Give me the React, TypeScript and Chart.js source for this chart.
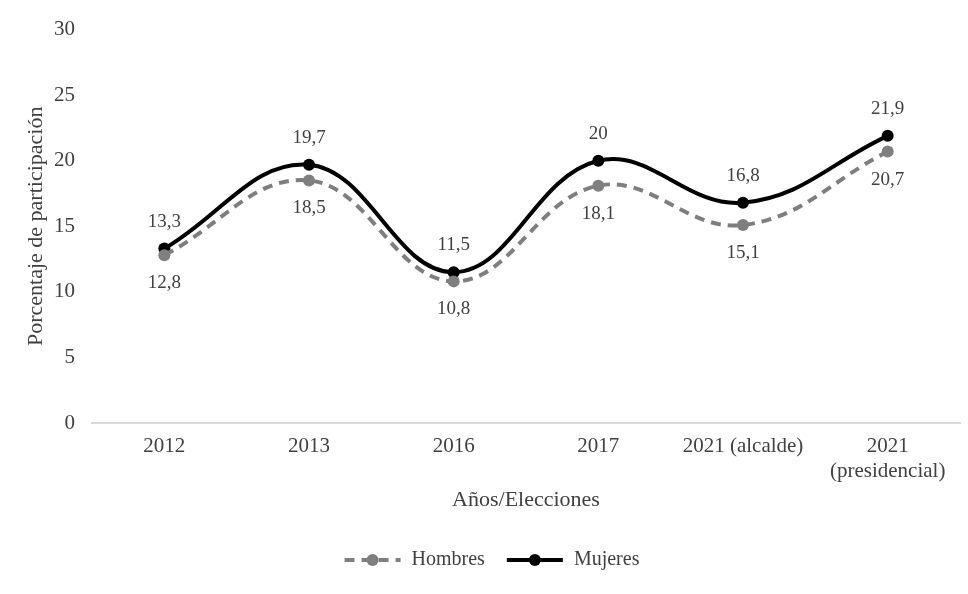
import React, { useEffect, useRef } from "react";
import { Chart, registerables } from "chart.js";

Chart.register(...registerables);

const categories: (string | string[])[] = ["2012", "2013", "2016", "2017", "2021 (alcalde)", ["2021", "(presidencial)"]];
const hombres = [12.8, 18.5, 10.8, 18.1, 15.1, 20.7];
const mujeres = [13.3, 19.7, 11.5, 20, 16.8, 21.9];
const yTicks = [0, 5, 10, 15, 20, 25, 30];

const FONT = "'Liberation Serif', 'Times New Roman', serif";
const TEXT = "#404040";
const GRAY = "#7f7f7f";
const BLACK = "#000000";

const fmt = (v: number) => String(v).replace(".", ",");

const labelPlugin = {
  id: "valueLabels",
  afterDatasetsDraw(chart: any) {
    const ctx = chart.ctx;
    ctx.save();
    ctx.font = `19px ${FONT}`;
    ctx.fillStyle = TEXT;
    ctx.textAlign = "center";
    ctx.textBaseline = "middle";
    chart.data.datasets.forEach((ds: any, i: number) => {
      const meta = chart.getDatasetMeta(i);
      meta.data.forEach((pt: any, j: number) => {
        const above = ds.label === "Mujeres";
        ctx.fillText(fmt(ds.data[j]), pt.x, above ? pt.y - 27 : pt.y + 28);
      });
    });
    ctx.restore();
  },
};

const legendPlugin = {
  id: "customLegend",
  afterDraw(chart: any) {
    const ctx = chart.ctx;
    ctx.save();
    ctx.font = `20px ${FONT}`;
    const y = 560;
    const sampleW = 56;
    const gap = 11;
    const itemGap = 22;
    const items = chart.data.datasets.map((ds: any) => ({
      ds,
      w: sampleW + gap + ctx.measureText(ds.label).width,
    }));
    const total = items.reduce((a: number, it: any) => a + it.w, 0) + itemGap * (items.length - 1);
    let x = chart.width / 2 + 8 - total / 2;
    items.forEach((it: any) => {
      const ds = it.ds;
      ctx.strokeStyle = ds.borderColor;
      ctx.lineWidth = ds.borderWidth;
      ctx.setLineDash(ds.borderDash || []);
      ctx.lineCap = "butt";
      ctx.beginPath();
      ctx.moveTo(x, y);
      ctx.lineTo(x + sampleW, y);
      ctx.stroke();
      ctx.setLineDash([]);
      ctx.fillStyle = ds.pointBackgroundColor;
      ctx.beginPath();
      ctx.arc(x + sampleW / 2, y, ds.pointRadius, 0, Math.PI * 2);
      ctx.fill();
      ctx.fillStyle = TEXT;
      ctx.textAlign = "left";
      ctx.textBaseline = "middle";
      ctx.fillText(ds.label, x + sampleW + gap, y);
      x += it.w + itemGap;
    });
    ctx.restore();
  },
};

export default function App() {
  const ref = useRef<HTMLCanvasElement>(null);
  useEffect(() => {
    if (!ref.current) return;
    const chart = new Chart(ref.current, {
      type: "line",
      data: {
        labels: categories as any,
        datasets: [
          {
            label: "Hombres",
            data: hombres,
            borderColor: GRAY,
            backgroundColor: GRAY,
            pointBackgroundColor: GRAY,
            pointBorderColor: GRAY,
            borderWidth: 4,
            borderDash: [10, 7],
            pointRadius: 6,
            pointBorderWidth: 0,
            tension: 0.4,
          },
          {
            label: "Mujeres",
            data: mujeres,
            borderColor: BLACK,
            backgroundColor: BLACK,
            pointBackgroundColor: BLACK,
            pointBorderColor: BLACK,
            borderWidth: 4,
            pointRadius: 6,
            pointBorderWidth: 0,
            tension: 0.4,
          },
        ],
      },
      options: {
        responsive: false,
        animation: false,
        layout: { padding: { left: 0, right: 8, top: 26, bottom: 0 } },
        plugins: {
          legend: { display: false },
          tooltip: { enabled: false },
        },
        scales: {
          x: {
            offset: true,
            grid: { display: true, color: "transparent", drawTicks: false },
            border: { display: true, color: "#d9d9d9", width: 2 },
            ticks: {
              color: TEXT,
              font: { family: FONT, size: 21 },
              padding: 11,
              maxRotation: 0,
              autoSkip: false,
            },
            title: {
              display: true,
              text: "Años/Elecciones",
              color: TEXT,
              font: { family: FONT, size: 22 },
              padding: { top: 0, bottom: 81 },
            },
            afterFit: (s: any) => {
              s.height = 171;
            },
          },
          y: {
            min: 0,
            max: 30,
            afterBuildTicks: (s: any) => {
              s.ticks = yTicks.map((v) => ({ value: v }));
            },
            grid: { display: true, color: "transparent", drawTicks: false },
            border: { display: false },
            ticks: {
              color: TEXT,
              font: { family: FONT, size: 21 },
              padding: 17,
            },
            title: {
              display: true,
              text: "Porcentaje de participación",
              color: TEXT,
              font: { family: FONT, size: 22 },
              padding: { top: 23, bottom: 0 },
            },
            afterFit: (s: any) => {
              s.width = 92;
            },
          },
        },
      },
      plugins: [labelPlugin, legendPlugin],
    });
    return () => chart.destroy();
  }, []);
  return (
    <div style={{ position: "absolute", left: 0, top: 0, width: 968, height: 594, background: "#fff" }}>
      <canvas ref={ref} width={968} height={594} style={{ width: 968, height: 594, display: "block" }} />
    </div>
  );
}
